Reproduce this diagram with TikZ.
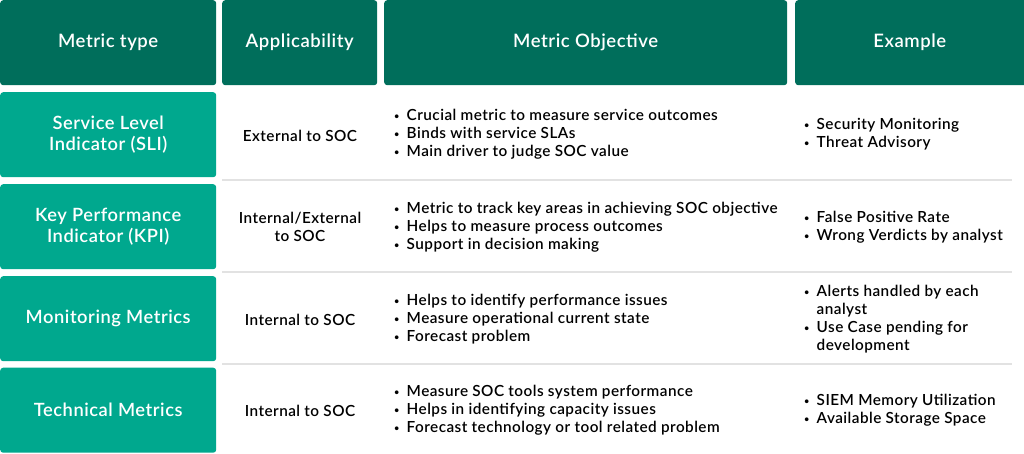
\documentclass[tikz,border=0pt]{standalone}
\usepackage{fontspec}
\IfFontExistsTF{Lato Semibold}{\setmainfont{Lato Semibold}[LetterSpace=3]\def\semi{}}{%
  \IfFontExistsTF{Lato SemiBold}{\setmainfont{Lato SemiBold}[LetterSpace=3]\def\semi{}}{%
    \setmainfont{Lato}[LetterSpace=3]\def\semi{\bfseries}}}
\usetikzlibrary{positioning}
\definecolor{hdrgreen}{HTML}{006E5B}
\definecolor{rowgreen}{HTML}{00A88E}
\definecolor{rulegray}{HTML}{E2E2E2}
\newcommand{\bul}{\makebox[12.5pt][l]{\raisebox{1pt}{\scalebox{0.6}{\textbullet}}}}
\newcommand{\nobul}{\hspace*{12.5pt}}

\begin{document}
\begin{tikzpicture}[x=1pt,y=-1pt,
  hdr/.style={fill=hdrgreen, rounded corners=3pt, text=white, anchor=north west,
    minimum height=85pt, inner sep=0pt, font=\semi\fontsize{18.5}{22}\selectfont},
  metric/.style={fill=rowgreen, rounded corners=3pt, text=white, anchor=north west,
    minimum width=216pt, minimum height=85pt, inner sep=0pt, align=center,
    font=\semi\fontsize{18.3}{21}\selectfont},
  cell/.style={text=black, inner sep=0pt, align=center, font=\semi\fontsize{15.3}{18}\selectfont},
  list/.style={cell, anchor=west, align=left},
  sep/.style={draw=rulegray, line width=1.2pt}]

      \useasboundingbox (0,0) rectangle (1024,453);

      % header
      \node [hdr, minimum width=216pt] (htype) at (0,0) {\raisebox{-2pt}{Metric type}};
      \node [hdr, minimum width=155pt] (happ) at (222,0) {\raisebox{-2pt}{Applicability}};
      \node [hdr, minimum width=403pt] (hobj) at (384,0) {\raisebox{-2pt}{Metric Objective}};
      \node [hdr, minimum width=232pt] (hex) at (795,0) {\hspace*{-3pt}\raisebox{-2pt}{Example}};

      % row separators
      \draw [sep] (222,180) -- (1012,180);
      \draw [sep] (222,272) -- (1012,272);
      \draw [sep] (222,364) -- (1012,364);

      % row 1
      \node [metric] (sli) at (0,92) {Service Level\\Indicator (SLI)};
      \node [cell] (sliapp) at (300,136) {External to SOC};
      \node [list] (sliobj) at (394,134) {\bul Crucial metric to measure service outcomes\\
        \bul Binds with service SLAs\\ \bul Main driver to judge SOC value};
      \node [list] (sliex) at (804,134) {\bul Security Monitoring\\ \bul Threat Advisory};

      % row 2
      \node [metric] (kpi) at (0,184) {Key Performance\\Indicator (KPI)};
      \node [cell] (kpiapp) at (300,227) {Internal/External\\to SOC};
      \node [list] (kpiobj) at (394,227) {\bul Metric to track key areas in achieving SOC objective\\
        \bul Helps to measure process outcomes\\ \bul Support in decision making};
      \node [list] (kpiex) at (804,227) {\bul False Positive Rate\\ \bul Wrong Verdicts by analyst};

      % row 3
      \node [metric] (mon) at (0,276) {Monitoring Metrics};
      \node [cell] (monapp) at (300,320) {Internal to SOC};
      \node [list] (monobj) at (394,319) {\bul Helps to identify performance issues\\
        \bul Measure operational current state\\ \bul Forecast problem};
      \node [list] (monex) at (804,319) {\bul Alerts handled by each\\ \nobul analyst\\
        \bul Use Case pending for\\ \nobul development};

      % row 4
      \node [metric] (tech) at (0,367.5) {Technical Metrics};
      \node [cell] (techapp) at (300,411) {Internal to SOC};
      \node [list] (techobj) at (394,410) {\bul Measure SOC tools system performance\\
        \bul Helps in identifying capacity issues\\ \bul Forecast technology or tool related problem};
      \node [list] (techex) at (804,410) {\bul SIEM Memory Utilization\\ \bul Available Storage Space};

\end{tikzpicture}
\end{document}
